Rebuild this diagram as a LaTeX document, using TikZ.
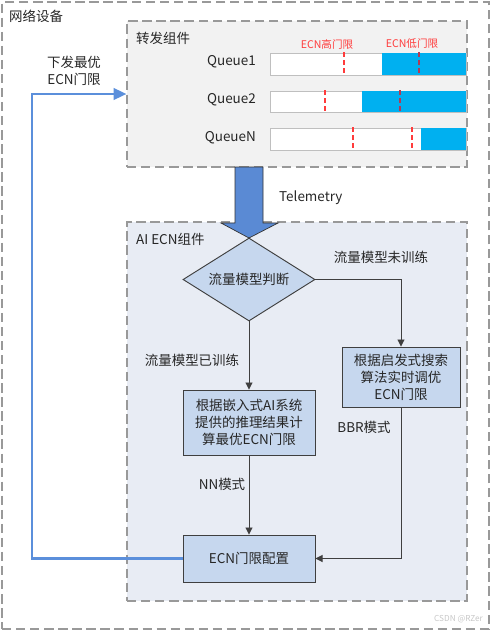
\documentclass[tikz,border=0pt]{standalone}
\usepackage{fontspec}
\setmainfont{Noto Sans CJK SC}
\usepackage{tikz}
\usetikzlibrary{arrows.meta,shapes.geometric}

\definecolor{fwdgray}{HTML}{F2F2F2}
\definecolor{aibg}{HTML}{E8ECF4}
\definecolor{stepblue}{HTML}{C6D7EE}
\definecolor{queueblue}{HTML}{00B0F0}
\definecolor{telblue}{HTML}{5A8AD4}
\definecolor{backblue}{HTML}{5B8FDB}
\definecolor{ecnred}{HTML}{FF3B3B}
\definecolor{ecndark}{HTML}{B23A55}
\definecolor{linegray}{HTML}{3F3F3F}

\begin{document}
\begin{tikzpicture}[x=0.03cm,y=-0.03cm,
	every node/.style={font=\fontsize{11.5}{14.5}\selectfont,text=black!85},
	group/.style={draw=black!40,dash pattern=on 8pt off 4pt,line width=1pt,inner sep=0pt},
	stepbox/.style={draw=linegray,fill=stepblue,line width=0.8pt,align=center,inner sep=1pt},
	flow/.style={draw=linegray,line width=0.8pt,-{Triangle[length=6pt,width=6pt]}},
	qbar/.style={draw=black!25,line width=0.8pt,fill=white},
	ecnline/.style={ecnred,line width=1pt,dash pattern=on 4pt off 3pt}]

	\useasboundingbox (0,0) rectangle (491,631);

	% outer and inner groups
	\node[group,minimum width=14.61cm,minimum height=18.81cm] (dev) at (245.5,315.5) {};
	\node[anchor=west] (devlabel) at (5,16) {网络设备};
	\node[group,fill=fwdgray,minimum width=10.2cm,minimum height=4.38cm] (fwd) at (297,94) {};
	\node[anchor=west] (fwdlabel) at (132,38) {转发组件};
	\node[group,fill=aibg,minimum width=10.2cm,minimum height=11.37cm] (ai) at (297,411.5) {};
	\node[anchor=west] (ailabel) at (132,239) {AI ECN组件};

	% queues
	\node[anchor=east] (q1) at (260,62) {Queue1};
	\node[anchor=east] (q2) at (260,100) {Queue2};
	\node[anchor=east] (qn) at (260,138) {QueueN};

	\draw[qbar] (270,53) rectangle (466,75);
	\fill[queueblue] (382,53) rectangle (466,75);
	\draw[qbar] (270,91) rectangle (466,112);
	\fill[queueblue] (362,91) rectangle (466,112);
	\draw[qbar] (270,128) rectangle (466,150);
	\fill[queueblue] (421,128) rectangle (466,150);

	\draw[ecnline] (344,52) -- (344,74);
	\draw[ecnline,ecndark] (419,52) -- (419,74);
	\draw[ecnline] (325,90) -- (325,111);
	\draw[ecnline,ecndark] (400,90) -- (400,111);
	\draw[ecnline] (353,127) -- (353,149);
	\draw[ecnline] (412,127) -- (412,149);

	\node[text=ecnred,font=\fontsize{9}{11}\selectfont] (high) at (327,44) {ECN高门限};
	\node[text=ecnred,font=\fontsize{9}{11}\selectfont] (low) at (412,44) {ECN低门限};

	% telemetry
	\draw[fill=telblue,draw=black!80,line width=0.6pt] (235,167) -- (263,167) -- (263,223) -- (278,223) -- (249,238) -- (221,223) -- (235,223) -- cycle;
	\node[anchor=west] (tel) at (275,198) {Telemetry};

	% AI ECN steps
	\node[shape=diamond,stepbox,minimum width=3.96cm,minimum height=2.49cm,aspect=1.59] (judge) at (249,279.5) {流量模型判断};
	\node[stepbox,minimum width=3.54cm,minimum height=1.8cm] (heur) at (401,377) {根据启发式搜索\\算法实时调优\\ECN门限};
	\node[stepbox,minimum width=3.96cm,minimum height=1.95cm] (calc) at (249,422.5) {根据嵌入式AI系统\\提供的推理结果计\\算最优ECN门限};
	\node[stepbox,minimum width=3.96cm,minimum height=1.41cm] (cfg) at (249,558.5) {ECN门限配置};

	\draw[flow] (judge.east) -| (heur.north);
	\draw[flow] (judge.south) -- (calc.north);
	\draw[flow] (calc.south) -- (cfg.north);
	\draw[flow] (heur.south) |- (cfg.east);

	\node (untrained) at (381,257) {流量模型未训练};
	\node (trained) at (192,360) {流量模型已训练};
	\node (nn) at (222,484) {NN模式};
	\node (bbr) at (364,427) {BBR模式};

	% feedback
	\coordinate (turn) at (32,94);
	\draw[backblue,line width=1.8pt,-{Triangle[length=11pt,width=10pt]}] (cfg.west) -| (turn) -- (fwd.west);
	\node[align=center] (down) at (74,71) {下发最优\\ECN门限};

	\node[anchor=east,text=black!22,font=\fontsize{7}{8}\selectfont] (mark) at (487,619) {CSDN @RZer};
\end{tikzpicture}
\end{document}
